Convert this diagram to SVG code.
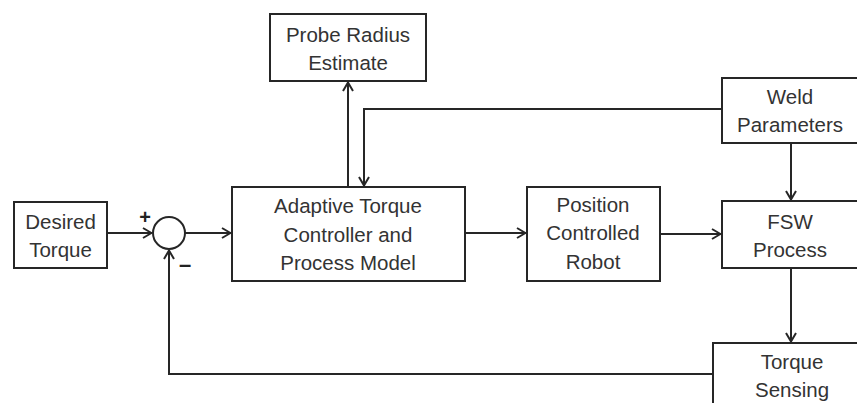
<svg xmlns="http://www.w3.org/2000/svg" width="857" height="403" viewBox="0 0 857 403">
<defs>
<style>
.box{fill:#fff;stroke:#262626;stroke-width:2}
.ln{fill:none;stroke:#262626;stroke-width:2}
.t{font-family:"Liberation Sans",Arial,sans-serif;font-size:20.5px;fill:#333;text-anchor:middle}
.s{font-family:"Liberation Sans",Arial,sans-serif;font-weight:bold;fill:#222;text-anchor:middle}
</style>
<marker id="ah" viewBox="0 0 10 12" refX="10" refY="6" markerWidth="10" markerHeight="12" markerUnits="userSpaceOnUse" orient="auto">
<path d="M1,1 L9.5,6 L1,11" fill="none" stroke="#262626" stroke-width="2"/>
</marker>
</defs>
<rect width="857" height="403" fill="#fff"/>
<g id="connectors">
<line class="ln" x1="107" y1="233" x2="152" y2="233" marker-end="url(#ah)"/>
<line class="ln" x1="185" y1="233" x2="231" y2="233" marker-end="url(#ah)"/>
<line class="ln" x1="348" y1="187" x2="348" y2="82" marker-end="url(#ah)"/>
<polyline class="ln" points="722,109 364,109 364,186" marker-end="url(#ah)"/>
<line class="ln" x1="465" y1="233" x2="526" y2="233" marker-end="url(#ah)"/>
<line class="ln" x1="660" y1="234" x2="721" y2="234" marker-end="url(#ah)"/>
<line class="ln" x1="791" y1="143" x2="791" y2="200" marker-end="url(#ah)"/>
<line class="ln" x1="791" y1="268" x2="791" y2="342" marker-end="url(#ah)"/>
<polyline class="ln" points="713,374 169,374 169,250" marker-end="url(#ah)"/>
</g>
<g id="desired-torque">
<rect class="box" x="14" y="202" width="93" height="66"/>
<text class="t" x="60.5" y="229">Desired</text>
<text class="t" x="60.5" y="257">Torque</text>
</g>
<g id="sum">
<circle class="box" cx="169" cy="233" r="16"/>
<text class="s" x="145" y="224" font-size="20">+</text>
<text class="s" x="185" y="272" font-size="22">–</text>
</g>
<g id="probe-radius">
<rect class="box" x="270" y="14" width="156" height="67"/>
<text class="t" x="348" y="42">Probe Radius</text>
<text class="t" x="348" y="70">Estimate</text>
</g>
<g id="adaptive">
<rect class="box" x="232" y="187" width="233" height="94"/>
<text class="t" x="348" y="213">Adaptive Torque</text>
<text class="t" x="348" y="242">Controller and</text>
<text class="t" x="348" y="270">Process Model</text>
</g>
<g id="robot">
<rect class="box" x="527" y="187" width="133" height="94"/>
<text class="t" x="593" y="212">Position</text>
<text class="t" x="593" y="240">Controlled</text>
<text class="t" x="593" y="269">Robot</text>
</g>
<g id="weld">
<rect class="box" x="722" y="78" width="140" height="65"/>
<text class="t" x="790" y="104">Weld</text>
<text class="t" x="790" y="132">Parameters</text>
</g>
<g id="fsw">
<rect class="box" x="722" y="201" width="140" height="67"/>
<text class="t" x="790" y="229">FSW</text>
<text class="t" x="790" y="257">Process</text>
</g>
<g id="torque-sensing">
<rect class="box" x="713" y="343" width="150" height="70"/>
<text class="t" x="792" y="369">Torque</text>
<text class="t" x="792" y="397">Sensing</text>
</g>
</svg>
